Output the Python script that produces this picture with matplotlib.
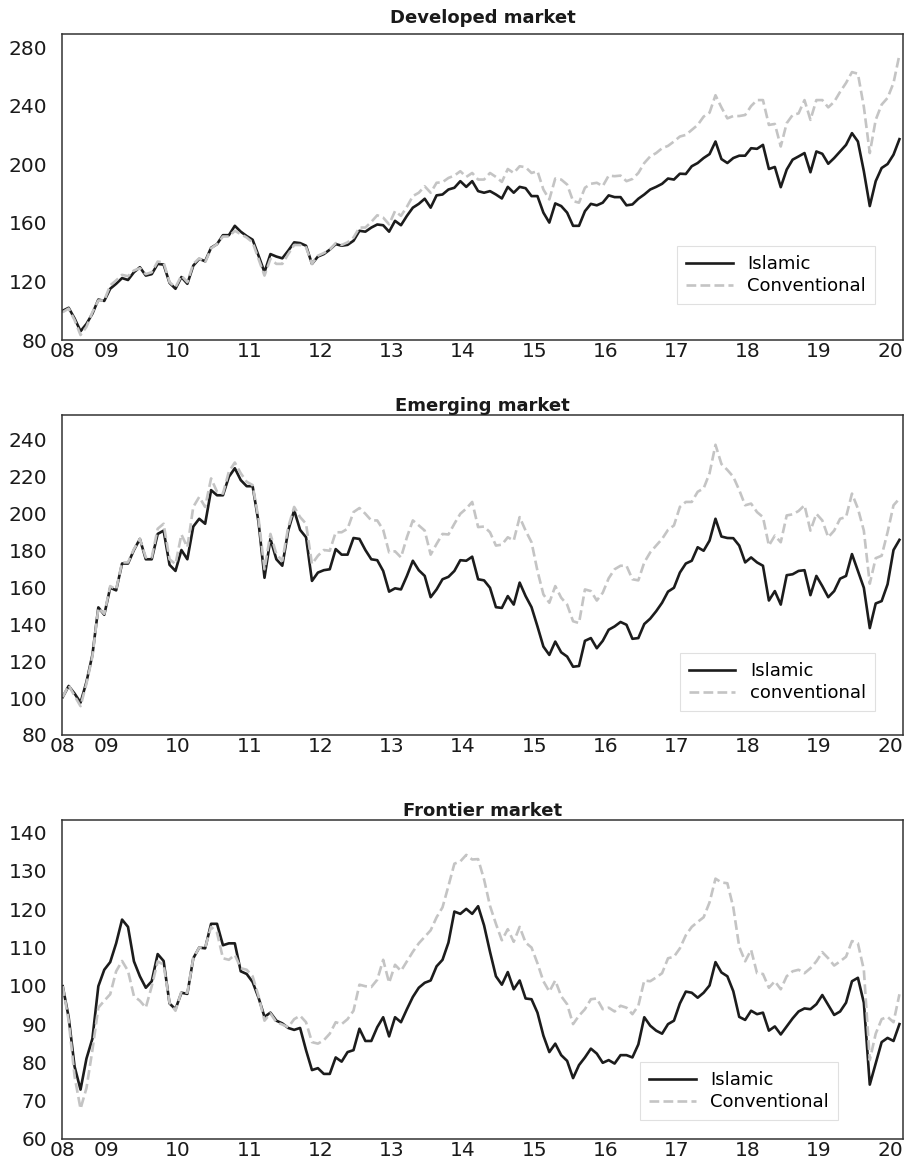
import numpy as np
import matplotlib
matplotlib.use("Agg")
import matplotlib.pyplot as plt

# monthly index levels, first month ~ May 2008
start_year = 2008.38
year_ticks = [2008.37, 2009, 2010, 2011, 2012, 2013, 2014, 2015, 2016, 2017, 2018, 2019, 2020]
year_labels = ['08', '09', '10', '11', '12', '13', '14', '15', '16', '17', '18', '19', '20']

dev_islamic = [
    100, 102, 94.7, 86, 91, 98, 107.6, 106.7, 115, 118.4,
    122.3, 121, 126.3, 129.7, 124, 125, 132, 131.5, 119, 115,
    123, 118.4, 130.8, 135.4, 133.8, 143, 145.5, 151.6, 151.6, 158,
    154, 151, 148.5, 137.6, 126.3, 138.7, 137, 135.8, 141, 146.7,
    146.2, 144.4, 132, 137, 138.7, 141.7, 145.5, 144.4, 145, 147.8,
    154.6, 154, 156.8, 158.9, 158.4, 154, 161.4, 158.4, 164.8, 170.4,
    173, 176.5, 170.4, 178.8, 179.4, 182.8, 184, 188.5,
    184.6, 188.5, 181.7, 180.6, 181.7, 179.4, 176.7, 184.6, 180.6, 184.6,
    183.7, 178.3, 178.3, 167, 160.2, 173.3, 171.5, 167, 158, 158,
    168, 173, 172, 173.8, 178.8, 177.6, 177.6, 172, 172.6, 176.5,
    179.4, 182.8, 184.6, 186.7, 190.3, 189.6, 193.6, 193.4, 198.7, 200.9,
    204.3, 207, 215.6, 203.6, 200.9, 204.3, 205.9, 205.9, 211, 210.6,
    213.3, 196.8, 198.2, 184.4, 196.4, 203.2, 205.4, 207.7, 194.6, 208.8,
    207.2, 200.4, 204.3, 208.8, 213.3, 221.3, 215.6, 195.3, 171.5, 188.5,
    197.5, 200.2, 206.6, 217.2]
dev_conv = [
    99, 101.5, 93.6, 83.4, 89, 99, 107, 107, 117.3, 120.7,
    124.5, 123.6, 127.5, 129, 125, 126.3, 133.6, 133, 119.5, 116,
    124, 119.5, 132, 135.8, 133, 142.6, 145.5, 150.7, 150.7, 154.6,
    152.3, 150, 146.7, 135.4, 124, 135.4, 132, 132, 138.7, 144.9,
    144.9, 143.3, 132, 137.6, 139.4, 141.7, 146.2, 144.9, 146.7, 150,
    156.8, 156.8, 160.7, 165.2, 163.6, 159, 168.1, 164.8, 171, 178.3,
    180.6, 185, 180.6, 187.4, 187.8, 190.7, 192.3, 195.3,
    191.4, 194.1, 189.6, 189.6, 194.1, 191.4, 188, 196.8, 194.1, 198.7,
    198, 194.1, 195.3, 182.8, 176, 190.3, 189.6, 186.2, 174.9, 173.8,
    184, 186.7, 187.4, 185.1, 192.3, 191.9, 192.3, 188.5, 190, 194.1,
    200.9, 205.4, 207.7, 211, 212.6, 215.6, 219, 220.1, 223.5, 226.9,
    232.6, 235.3, 247.2, 238.9, 231.4, 233, 233, 233.7, 239.8, 243.9,
    243.9, 226.9, 227.6, 212.2, 228.1, 233.7, 234.8, 243.9, 230.4, 243.9,
    243.9, 238.9, 242.7, 249.5, 255.6, 263, 261.9, 239.3, 207.7, 230.4,
    240.8, 245.4, 255.6, 274.9]

emg_islamic = [
    100.5, 106.5, 102.4, 97.5, 108.7, 123.3, 149, 145, 159.6, 158.2,
    172.7, 172.7, 180, 186, 175, 175, 188.7, 190.5, 172, 168.7,
    180, 175, 192.7, 196.9, 194.2, 212.4, 209.6, 209.6, 219.6, 224.2,
    217.8, 214.5, 214.5, 195, 165, 186, 175, 171.5, 190.5, 201.5,
    190.9, 186.9, 163.3, 167.8, 169.1, 169.6, 180.5, 177.5, 177.5, 186.5,
    186, 180, 175, 174.5, 168.7, 157.5, 159.3, 158.7, 166, 174.2,
    169.1, 166, 154.5, 158.7, 164.2, 165.5, 168.7, 174.5,
    174.2, 176.4, 164.2, 163.6, 159.6, 149.1, 148.7, 155.1, 150.5, 162.4,
    155.1, 149.1, 138.7, 127.8, 123.3, 130.5, 124.7, 122.4, 116.9, 117.3,
    130.9, 132.4, 126.9, 130.9, 136.9, 138.7, 141.1, 139.6, 132, 132.4,
    140, 142.9, 146.9, 151.5, 157.5, 159.6, 167.8, 172.7, 174.2, 181.5,
    179.6, 185.1, 196.9, 187.3, 186.5, 186.4, 182.4, 173.3, 176, 173.3,
    171.5, 152.7, 157.8, 150.5, 166.4, 166.9, 168.7, 169.1, 155.6, 166,
    160.5, 154.5, 157.8, 164.5, 166, 177.8, 168.7, 159.6, 137.8, 151.1,
    152.4, 161.5, 180, 185.5]
emg_conv = [
    100.5, 106.9, 101.1, 95.6, 107.8, 122.4, 148.7, 145.5, 160.5, 158.7,
    173.3, 173.3, 180.5, 186, 176, 176, 191.5, 194.2, 175, 172.4,
    188.4, 181.5, 203.3, 208.7, 203.3, 218.7, 211.5, 210.5, 222.4, 227.3,
    221.5, 216.9, 215.1, 196.9, 169.6, 188.7, 177.8, 174.2, 192.4, 203.3,
    197.8, 194.2, 172.4, 176.9, 180, 179.6, 189.6, 189.6, 191.5, 200.5,
    202.7, 199.6, 196, 196, 190.9, 178.7, 179.3, 176, 186.9, 196,
    193.3, 190.5, 177.5, 183.3, 188.7, 188.4, 194.2, 199.6,
    202.4, 206, 192.4, 192.7, 189.6, 182.4, 182.9, 186.9, 185.1, 197.8,
    190.5, 184.2, 168.7, 156, 151.5, 160.5, 154.2, 150.5, 141.5, 140.5,
    158.7, 157.8, 152.7, 156.9, 164.7, 169.6, 171.5, 171.5, 164.2, 163.6,
    173.3, 178.7, 182.4, 186, 190.9, 193.3, 203.3, 206, 206, 211.5,
    213.3, 221.5, 236.9, 226.5, 223.3, 219.6, 212.4, 204.2, 205.1, 200.5,
    197.8, 182.4, 187.8, 184.2, 198.7, 199.3, 201.1, 204.2, 190.5, 199.6,
    196, 186.9, 190.5, 196.9, 197.8, 210.5, 202.4, 190.5, 161.8, 175.6,
    176.9, 189.6, 204.2, 207.8]

fr_islamic = [
    99.9, 91.8, 78.9, 72.9, 81, 86.2, 99.9, 104.2, 106.2, 111.1,
    117.3, 115.4, 106.4, 102.5, 99.5, 101.2, 108.3, 106.5, 95.4, 93.9,
    98.2, 97.9, 107.2, 110, 109.8, 116.2, 116.2, 110.6, 111.1, 111.1,
    103.8, 103.1, 101, 96.9, 91.9, 93, 90.9, 90.2, 89, 88.5,
    89, 83.2, 78, 78.5, 77, 77, 81.3, 80.2, 82.7, 83.2,
    88.8, 85.6, 85.6, 89.2, 91.8, 86.8, 91.8, 90.5, 93.9, 97.1,
    99.5, 100.8, 101.4, 105.1, 106.8, 111.3, 119.4, 118.8,
    120.1, 118.8, 120.8, 115.8, 108.9, 102.5, 100.3, 103.6, 99.1, 101.4,
    96.7, 96.5, 93, 87, 82.7, 84.9, 81.9, 80.4, 75.9, 79.3,
    81.3, 83.6, 82.3, 79.9, 80.6, 79.7, 81.9, 81.9, 81.3, 84.7,
    91.8, 89.6, 88.3, 87.5, 90, 90.9, 95.4, 98.5, 98.2, 96.9,
    98.2, 100.1, 106.2, 103.5, 102.5, 98.6, 91.9, 91.1, 93.5, 92.6,
    93, 88.3, 89.4, 87.3, 89.4, 91.5, 93.3, 94.1, 93.9, 95.2,
    97.6, 95, 92.4, 93.3, 95.6, 101.2, 102.1, 95.6, 74.2, 79.7,
    85.3, 86.4, 85.6, 90]
fr_conv = [
    99.9, 90.9, 76.3, 67.9, 73.3, 83.2, 94.3, 96.1, 97.8, 103.8,
    106.5, 103.9, 97.3, 96.1, 94.3, 99.9, 106.4, 105.5, 95.6, 93.5,
    98.5, 98.2, 107.2, 110, 110, 115.4, 113.9, 107.2, 106.8, 108.1,
    104.6, 104.2, 102.5, 97.3, 90.9, 92.8, 90.5, 89.9, 89.2, 91.3,
    92.2, 90.5, 85.3, 84.9, 85.8, 87.5, 90.5, 90, 91.3, 93.5,
    100.3, 99.9, 99.7, 101.6, 106.8, 100.8, 105.5, 103.9, 106.4, 108.9,
    111.1, 112.8, 114.5, 117.9, 120.5, 126.1, 131.9, 132.5,
    134.2, 133, 133.1, 127.8, 120.9, 116.2, 111.9, 114.8, 111.5, 115.4,
    111.3, 110, 105.9, 101.2, 98.5, 101.4, 97.3, 95.2, 90, 92.2,
    93.9, 96.5, 96.7, 93.9, 94.3, 93.3, 94.8, 94.3, 92.6, 94.8,
    101.4, 101.2, 102.2, 103.3, 107.2, 107.6, 109.8, 113.2, 115.4, 116.7,
    117.9, 121.8, 128, 127, 126.8, 120.5, 110.2, 106.4, 109.4, 103.3,
    103.1, 99.5, 101.2, 99.1, 102.5, 103.8, 104.2, 103.3, 104.6, 106.4,
    108.8, 107.2, 105.3, 106.4, 107.6, 111.7, 111.1, 104.2, 80.6, 87.5,
    91.3, 91.9, 90.5, 97.8]

panels = [
    # title, islamic, conventional, conv label, ylim, yticks, axes rect, legend anchor, title pad
    ("Developed market", dev_islamic, dev_conv, "Conventional",
     (80, 289), np.arange(80, 281, 40), [0.0683, 0.7094, 0.9262, 0.2615], (0.72, 0.088), 8),
    ("Emerging market", emg_islamic, emg_conv, "conventional",
     (80, 253), np.arange(80, 241, 20), [0.0683, 0.3718, 0.9262, 0.2735], (0.7235, 0.047), 1.5),
    ("Frontier market", fr_islamic, fr_conv, "Conventional",
     (60, 143.3), np.arange(60, 141, 10), [0.0683, 0.0265, 0.9262, 0.2726], (0.676, 0.031), 1.5),
]

fig = plt.figure(figsize=(9.08, 11.7), dpi=100)

for title, isl, conv, conv_lab, ylim, yt, rect, anchor, tpad in panels:
    ax = fig.add_axes(rect)
    x = start_year + np.arange(len(isl)) / 12.0
    ax.plot(x, isl, color='#1c1c1c', lw=1.9, label='Islamic')
    ax.plot(x, conv, color='#c4c4c4', lw=1.9, ls='--', label=conv_lab)
    ax.set_xlim(2008.37, 2020.18)
    ax.set_ylim(*ylim)
    ax.set_yticks(yt)
    ax.set_xticks(year_ticks)
    ax.set_xticklabels(year_labels)
    ax.tick_params(axis='y', length=0, pad=10.5, labelsize=14.5, colors='#1a1a1a')
    ax.tick_params(axis='x', length=0, pad=1.5, labelsize=14.5, colors='#1a1a1a')
    for s in ax.spines.values():
        s.set_color('#333333')
        s.set_linewidth(1.1)
    ax.set_title(title, fontsize=13, fontweight='bold', pad=tpad, color='#1a1a1a')
    leg = ax.legend(loc='lower left', bbox_to_anchor=anchor, fontsize=13,
                    fancybox=False, framealpha=1, edgecolor='#e0e0e0',
                    handlelength=2.6, borderpad=0.5, labelspacing=0.2)
    leg.get_frame().set_linewidth(0.8)

fig.savefig('out.png', dpi=100)
